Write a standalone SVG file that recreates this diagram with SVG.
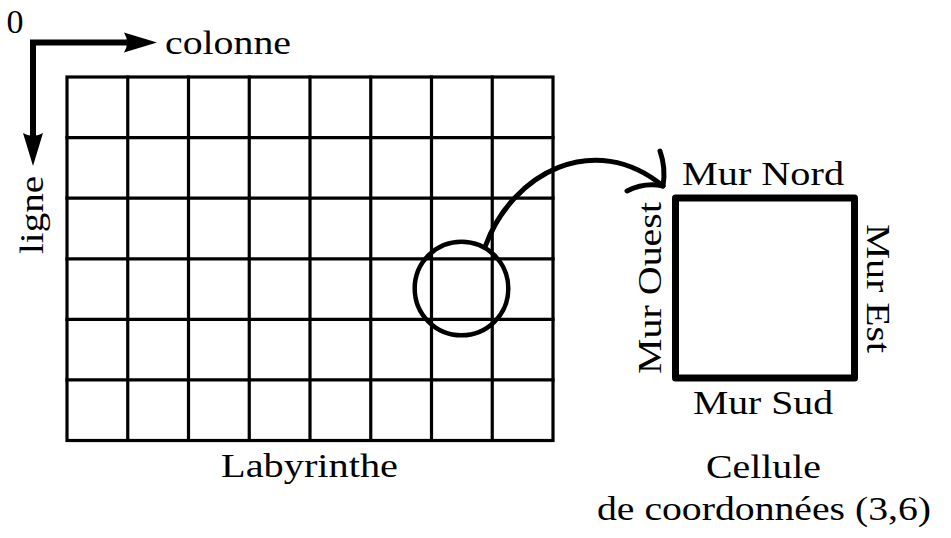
<svg xmlns="http://www.w3.org/2000/svg" width="951" height="538" viewBox="0 0 951 538">
<style>
text{font-size:34px;fill:#000}
.grid{stroke:#000;stroke-width:3.2;fill:none;stroke-linecap:square}
.axis{stroke:#000;stroke-width:6;fill:none;stroke-linejoin:miter}
.curve{stroke:#000;stroke-width:5;fill:none;stroke-linecap:round;stroke-linejoin:round}
</style>
<defs>
<marker id="head" markerUnits="userSpaceOnUse" markerWidth="60" markerHeight="40" viewBox="-30 -20 60 40" refX="0" refY="0" orient="auto-start-reverse" overflow="visible">
<path d="M12,0 L-21,-10 Q-15,0 -21,10 Z" fill="#000"/>
</marker>
</defs>
<rect width="951" height="538" fill="#fff"/>
<g font-family="Liberation Serif, Times New Roman, serif">
<g id="axes">
<path class="axis" d="M33,154 L33,42.5 L145,42.5" marker-start="url(#head)" marker-end="url(#head)"/>
<text x="15" y="33" text-anchor="middle">0</text>
<text x="165" y="54" textLength="126" lengthAdjust="spacingAndGlyphs">colonne</text>
<text transform="translate(43,254) rotate(-90)" textLength="78" lengthAdjust="spacingAndGlyphs">ligne</text>
</g>

<g id="labyrinthe">
<rect class="grid" x="67" y="77" width="486" height="363.5"/>
<path class="grid" d="M127.75,77V440.5 M188.5,77V440.5 M249.25,77V440.5 M310,77V440.5 M370.75,77V440.5 M431.5,77V440.5 M492.25,77V440.5 M67,137.6H553 M67,198.2H553 M67,258.8H553 M67,319.3H553 M67,379.9H553"/>
<text x="221" y="477" textLength="177" lengthAdjust="spacingAndGlyphs">Labyrinthe</text>
</g>

<g id="selection">
<circle cx="461.5" cy="288.5" r="46.8" fill="none" stroke="#000" stroke-width="4.5"/>
</g>

<g id="cellule">
<rect x="675.5" y="198" width="179" height="180" fill="none" stroke="#000" stroke-width="7" stroke-linejoin="round"/>
<text x="682" y="185" textLength="162" lengthAdjust="spacingAndGlyphs">Mur Nord</text>
<text x="693" y="414" textLength="140" lengthAdjust="spacingAndGlyphs">Mur Sud</text>
<text transform="translate(661,374) rotate(-90)" textLength="172" lengthAdjust="spacingAndGlyphs">Mur Ouest</text>
<text transform="translate(867,224) rotate(90)" textLength="129" lengthAdjust="spacingAndGlyphs">Mur Est</text>
<text x="706" y="478" textLength="115" lengthAdjust="spacingAndGlyphs">Cellule</text>
<text x="597" y="520" textLength="334" lengthAdjust="spacingAndGlyphs">de coordonnées (3,6)</text>
</g>

<g id="connectors">
<path class="curve" d="M485,247 C512,172 595,130 663,186"/>
<path class="curve" d="M660,151 Q666,168 663,186 M627,191 Q645,182 663,186"/>
</g>
</g>
</svg>
